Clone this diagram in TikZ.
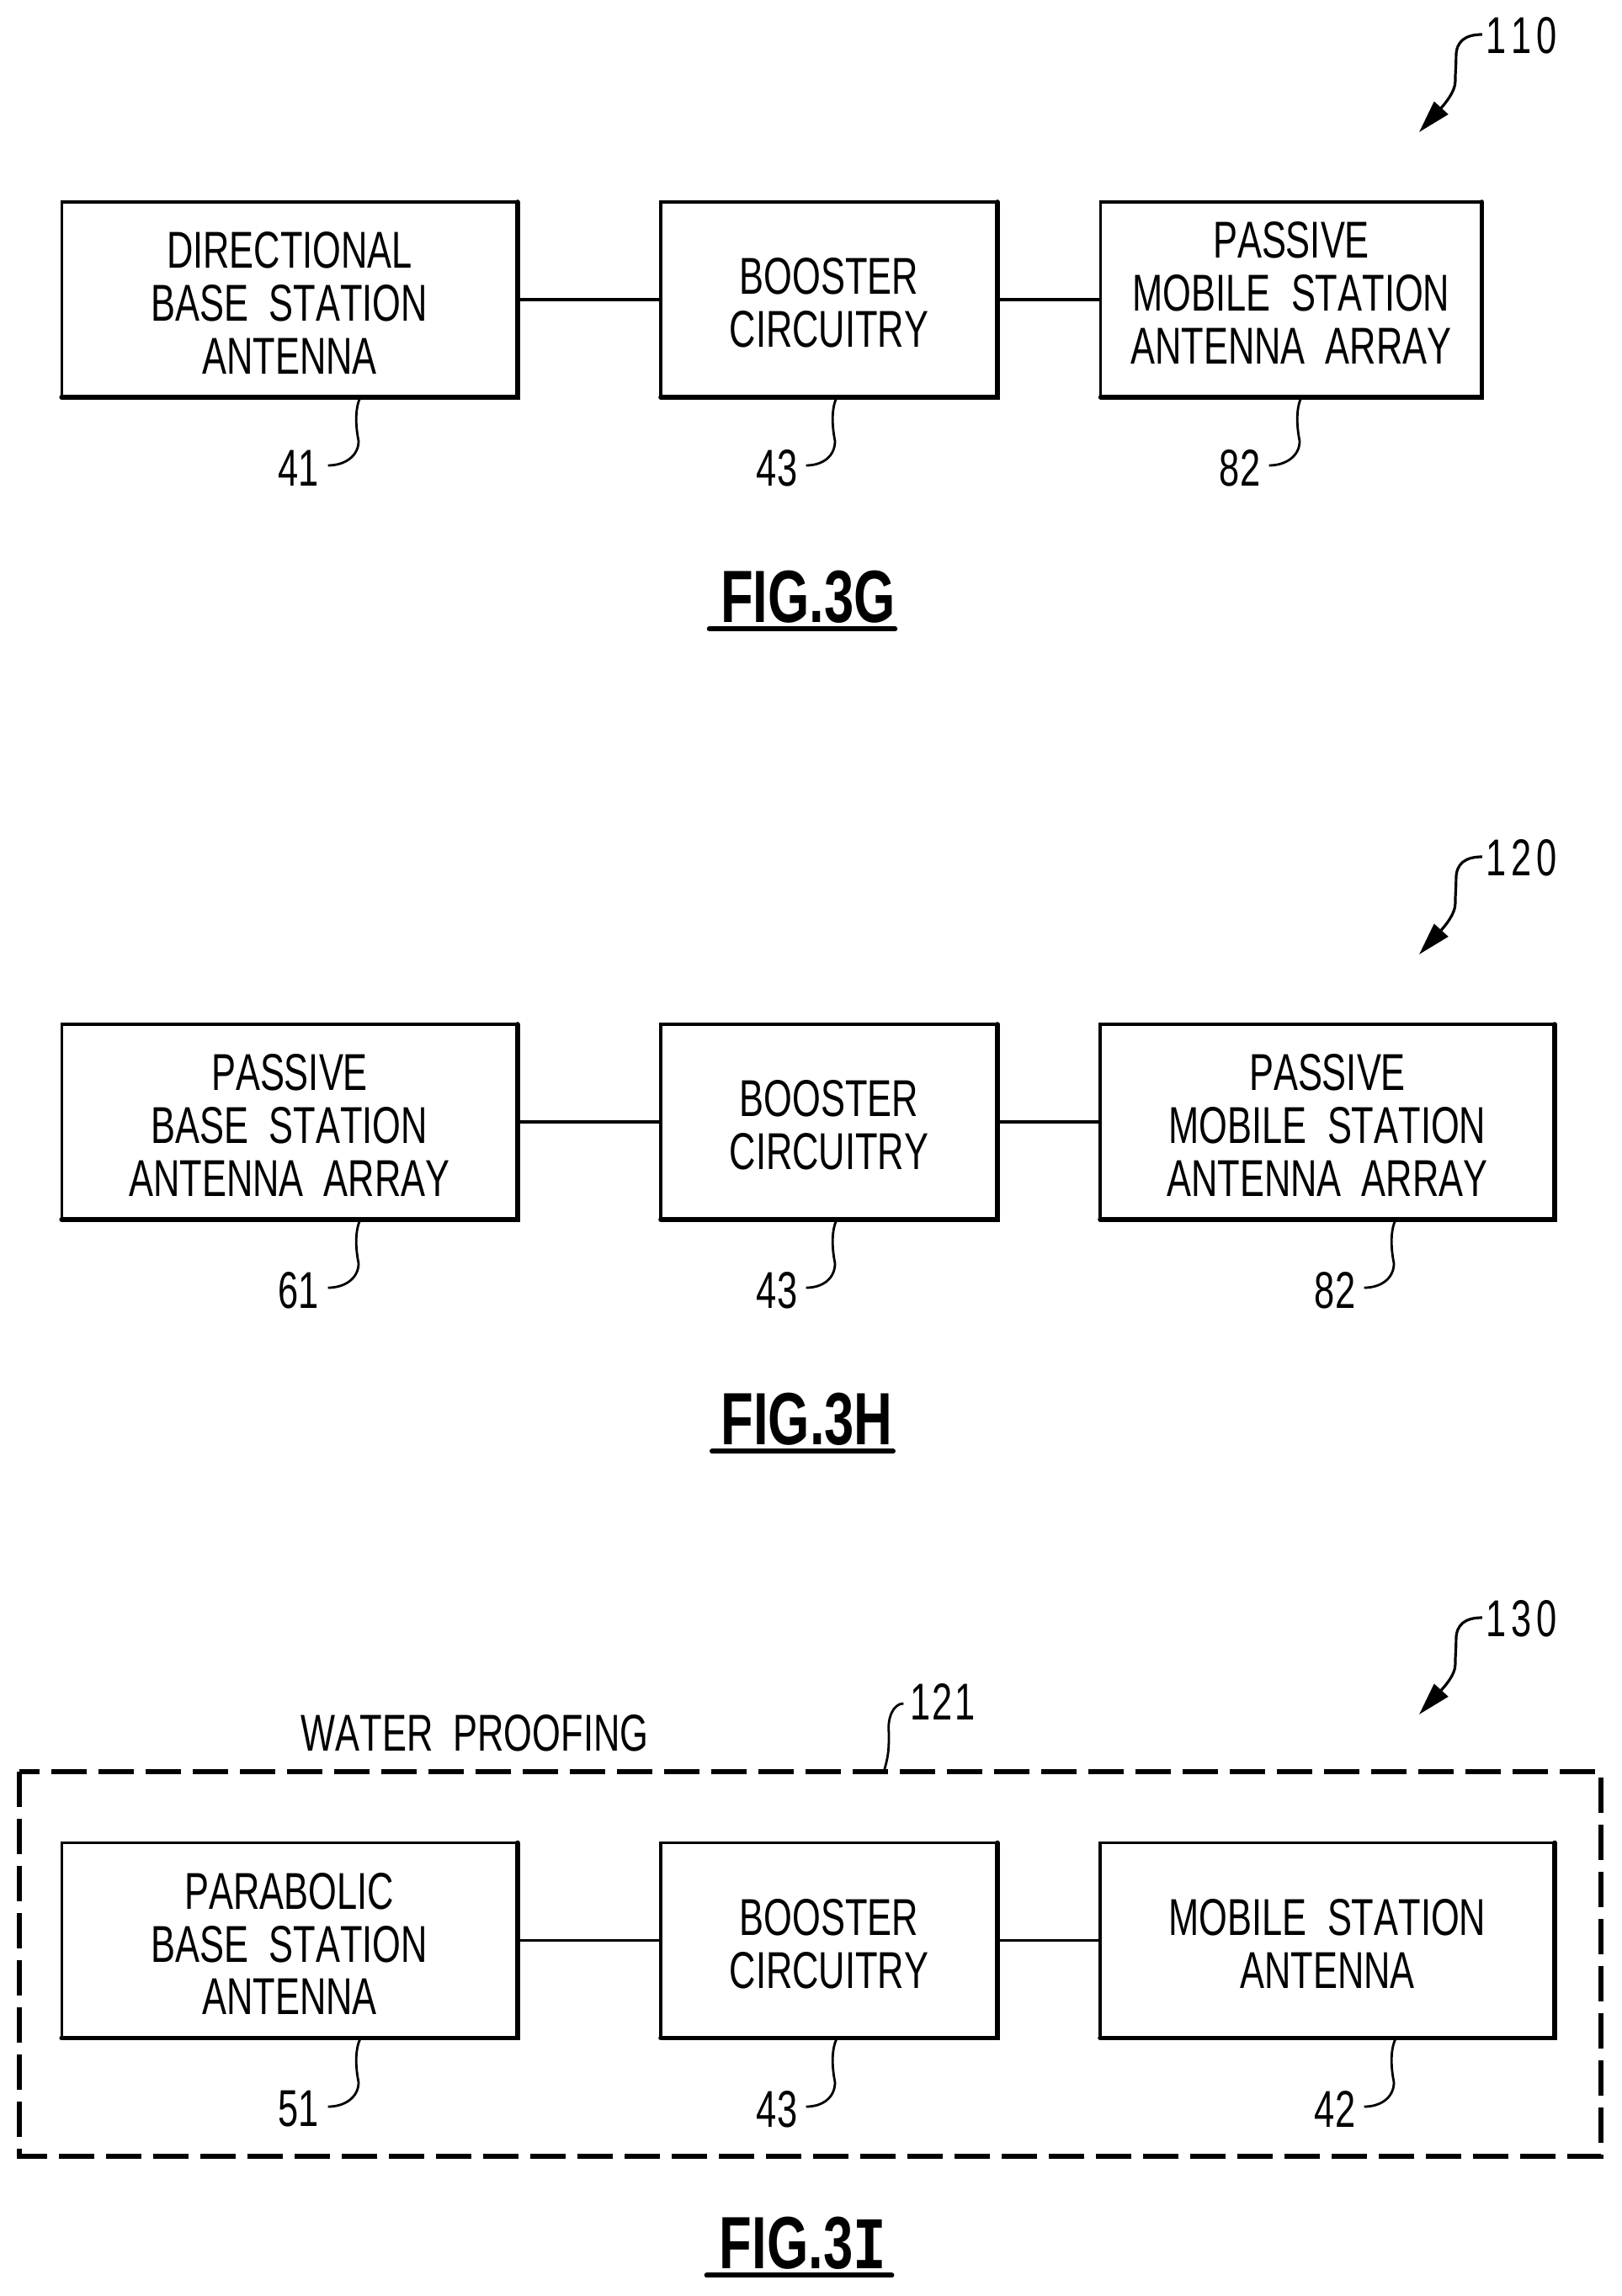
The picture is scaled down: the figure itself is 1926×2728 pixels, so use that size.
\documentclass[tikz,border=0pt]{standalone}
\usepackage{fontspec}
\setmainfont{Liberation Sans}[FakeStretch=0.705,Kerning=Off]
\newfontfamily\figfont{Liberation Sans}[FakeStretch=0.72]
\newfontfamily\figserif{Liberation Mono}[FakeStretch=0.75]
\usetikzlibrary{calc,arrows.meta}
\tikzset{
  bx/.style={draw,line width=1.7pt,inner sep=0pt,outer sep=0pt,minimum height=116pt,align=center,font=\fontsize{30.8}{31.3}\selectfont},
  wa/.style={bx,minimum width=270.8pt},
  wb/.style={bx,minimum width=200pt},
  wc/.style={bx,minimum width=226.4pt},
  wd/.style={bx,minimum width=270pt},
  conn/.style={line width=1.7pt},
  heavy/.style={line width=2.8pt,line cap=round},
  lab/.style={inner sep=0pt,font=\fontsize{30.8}{31.3}\selectfont},
  lead/.style={line width=1.4pt},
  refa/.style={line width=1.6pt,-{Stealth[length=19.5pt,width=11pt,inset=0pt]}},
  figt/.style={inner xsep=0pt,inner ysep=4pt,text height=31.5pt,text depth=0pt,font=\figfont\fontsize{44}{44}\selectfont\bfseries},
  figu/.style={line width=3pt,line cap=round},
  wall/.style={line width=2.6pt,dash pattern=on 21pt off 7pt}
}
\newcommand{\dn}{\rule{0pt}{25.5pt}}
\newcommand{\leadto}[2]{\draw[lead] (#1) .. controls +(-6,13) and +(-4,-20) .. ++(-2,52) .. controls +(0,18) and +(20,0) .. ($(#2.east)+(10,-3)$);}
\newcommand{\refto}[2]{\draw[refa] ($(#1.west)+(-4,-1)$) .. controls +(-20,0) and +(0,-18) .. ++(-31,26) .. controls +(0,10) and +(0,-10) .. ++(-1,30) .. controls +(0,12) and +(30,-33) .. (#2);}
\begin{document}
\begin{tikzpicture}[x=0.5pt,y=-0.5pt]
\useasboundingbox (0,0) rectangle (1926,2728);
% FIG 3G
\node[wa] (a1) at (344,356) {\dn DIRECTIONAL\\BASE\ \ STATION\\ANTENNA};
\node[wb] (b1) at (985,356) {\dn BOOSTER\\CIRCUITRY};
\node[wc] (c1) at (1534,356) {PASSIVE\\MOBILE\ \ STATION\\ANTENNA\ \ ARRAY\rule[-8pt]{0pt}{8pt}};
% FIG 3H
\node[wa] (a2) at (344,1333) {\dn PASSIVE\\BASE\ \ STATION\\ANTENNA\ \ ARRAY};
\node[wb] (b2) at (985,1333) {\dn BOOSTER\\CIRCUITRY};
\node[wd] (c2) at (1577,1333) {\dn PASSIVE\\MOBILE\ \ STATION\\ANTENNA\ \ ARRAY};
% FIG 3I
\node[wa] (a3) at (344,2305.5) {\dn PARABOLIC\\BASE\ \ STATION\\ANTENNA};
\node[wb] (b3) at (985,2305.5) {\dn BOOSTER\\CIRCUITRY};
\node[wd] (c3) at (1577,2305.5) {\dn MOBILE\ \ STATION\\ANTENNA};
\foreach \n in {a1,b1,c1,a2,b2,c2,a3,b3,c3}{
  \draw[heavy] (\n.south west) -- (\n.south east) -- (\n.north east);
}
\foreach \r in {1,2,3}{
  \draw[conn] (a\r) -- (b\r);
  \draw[conn] (b\r) -- (c\r);
}
% reference labels with leaders
\foreach \t/\x/\y/\sx in {41/355/556/428,43/923/556/994,82/1473/556/1546,
                          61/355/1533/428,43/923/1533/994,82/1586/1533/1658,
                          51/355/2506/428,43/923/2506/994,42/1586/2506/1658}{
  \node[lab] (n\t-\x-\y) at (\x,\y) {\t};
  \coordinate (s\t-\x-\y) at (\sx,\y-84);
  \leadto{s\t-\x-\y}{n\t-\x-\y}
}
% overall reference arrows
\node[lab] (r110) at (1807.5,42) {1\kern3pt 1\kern3pt 0};
\node[lab] (r120) at (1807.5,1019) {1\kern3pt 2\kern3pt 0};
\node[lab] (r130) at (1807.5,1923) {1\kern3pt 3\kern3pt 0};
\coordinate (t110) at (1686,157);
\coordinate (t120) at (1686,1134);
\coordinate (t130) at (1686,2037);
\refto{r110}{t110}
\refto{r120}{t120}
\refto{r130}{t130}
% water proofing
\coordinate (w1) at (23,2105);
\coordinate (w2) at (1902,2562);
\draw[wall] (w1) rectangle (w2);
\node[lab] (wp) at (564,2059) {WATER\ \ PROOFING};
\node[lab] (r121) at (1120,2022) {1\kern1pt 2\kern1pt 1};
\coordinate (s121) at (1050,2105);
\draw[lead] (s121) .. controls +(6,-20) and +(0,18) .. ++(6,-46) .. controls +(-2,-18) and +(-12,0) .. ($(r121.west)+(-8,2)$);
% figure captions
\node[figt] (f1) at (960,707.5) {FIG.3G};
\node[figt] (f2) at (958.5,1684.5) {FIG.3H};
\node[figt] (f3) at (954,2663.5) {FIG.3{\figserif\bfseries I}};
\draw[figu] ($(f1.south west)+(-13,0)$) -- ($(f1.south east)+(-1,0)$);
\draw[figu] ($(f2.south west)+(-10,0)$) -- ($(f2.south east)+(0,0)$);
\draw[figu] ($(f3.south west)+(-15,0)$) -- ($(f3.south east)+(6,0)$);
\end{tikzpicture}
\end{document}
